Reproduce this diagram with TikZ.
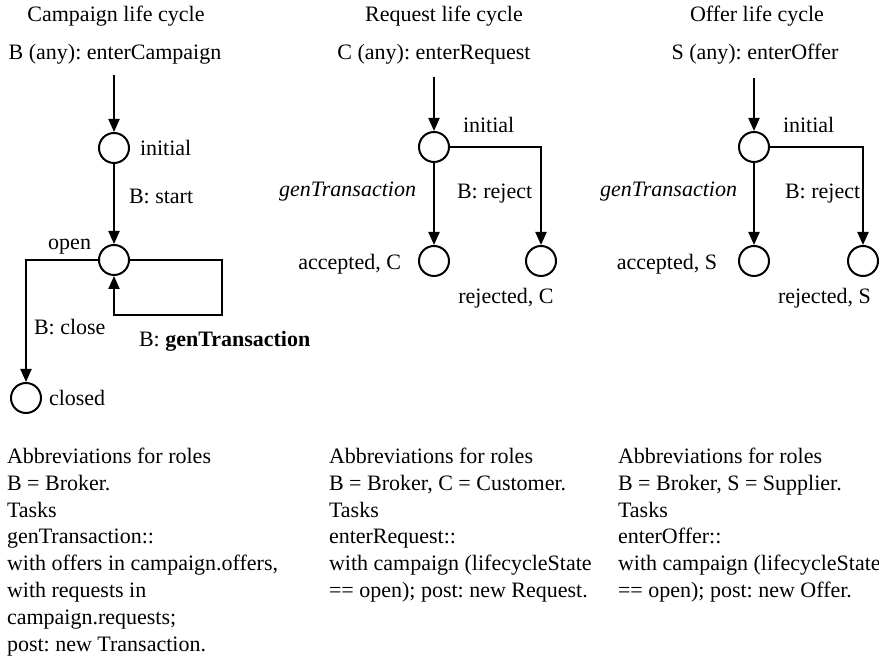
\documentclass[tikz,border=0pt]{standalone}
\usepackage{fontspec}
\setmainfont{Liberation Serif}
\frenchspacing
\usetikzlibrary{arrows.meta,positioning}

\begin{document}
\begin{tikzpicture}[x=0.5pt, y=-0.5pt, line width=1pt, >={Triangle[length=6.5pt,width=5.5pt]},
font=\fontsize{11pt}{13.4pt}\selectfont, node distance=4.5pt, state/.style={
% The shape:
circle,
% The size:
minimum size=15pt, inner sep=0pt,
% The border:
draw=black
}, lbl/.style={inner sep=0pt, anchor=base}, notes/.style={inner sep=0pt, anchor=north west, align=left}]

\useasboundingbox (0,0) rectangle (879,657);

	% Campaign life cycle
	\node (CT) [lbl] at (116,22) {Campaign life cycle};
	\node (CE) [lbl] at (115,60) {B (any): enterCampaign};
	\coordinate (CS) at (114,75);
	\node (CI) [state] at (114,148) {};
	\node (CO) [state] at (114,260) {};
	\node (CC) [state] at (26,398) {};
	\coordinate (CL) at (222,315);
	\node (CIl) [inner sep=0pt, right=of CI] {initial};
	\node (CCl) [inner sep=0pt, right=3pt of CC] {closed};
	\node (CSt) [lbl, anchor=base west] at (128,204) {B: start};
	\node (COl) [lbl, anchor=base east] at (92,250) {open};
	\node (CCo) [lbl, anchor=base west] at (33,335) {B: close};
	\node (CGt) [lbl, anchor=base west] at (138,347) {B: \textbf{genTransaction}};

	\draw[->] (CS) -- (CI);
	\draw[->] (CI) -- (CO);
	\draw[->] (CO.west) -| (CC.north);
	\draw[->] (CO.east) -| (CL) -| (CO.south);

	% Request life cycle
	\node (RT) [lbl] at (444,22) {Request life cycle};
	\node (RE) [lbl] at (434,60) {C (any): enterRequest};
	\coordinate (RS) at (434,77);
	\node (RI) [state] at (434,147) {};
	\node (RA) [state] at (434,261) {};
	\node (RR) [state] at (541,261) {};
	\node (RIl) [lbl, anchor=base west] at (462,133) {initial};
	\node (RGt) [lbl, anchor=base east] at (417,197) {\textit{genTransaction}};
	\node (RRj) [lbl, anchor=base west] at (456,199) {B: reject};
	\node (RAl) [lbl, anchor=base east] at (402,270) {accepted, C};
	\node (RRl) [lbl] at (506,304) {rejected, C};

	\draw[->] (RS) -- (RI);
	\draw[->] (RI) -- (RA);
	\draw[->] (RI.east) -| (RR.north);

	% Offer life cycle
	\node (OT) [lbl] at (757,22) {Offer life cycle};
	\node (OE) [lbl] at (755,60) {S (any): enterOffer};
	\coordinate (OS) at (754,78);
	\node (OI) [state] at (754,147) {};
	\node (OA) [state] at (754,261) {};
	\node (OR) [state] at (863,261) {};
	\node (OIl) [lbl, anchor=base west] at (782,133) {initial};
	\node (OGt) [lbl, anchor=base east] at (738,197) {\textit{genTransaction}};
	\node (ORj) [lbl, anchor=base west] at (784,199) {B: reject};
	\node (OAl) [lbl, anchor=base east] at (718,270) {accepted, S};
	\node (ORl) [lbl, anchor=base west] at (777,304) {rejected, S};

	\draw[->] (OS) -- (OI);
	\draw[->] (OI) -- (OA);
	\draw[->] (OI.east) -| (OR.north);

	% notes
	\node (CN) [notes] at (6,447) {Abbreviations for roles\\B = Broker.\\Tasks\\genTransaction::\\with offers in campaign.offers,\\with requests in\\campaign.requests;\\post: new Transaction.};
	\node (RN) [notes] at (328,447) {Abbreviations for roles\\B = Broker, C = Customer.\\Tasks\\enterRequest::\\with campaign (lifecycleState\\== open); post: new Request.};
	\node (ON) [notes] at (617,447) {Abbreviations for roles\\B = Broker, S = Supplier.\\Tasks\\enterOffer::\\with campaign (lifecycleState\\== open); post: new Offer.};
\end{tikzpicture}
\end{document}
